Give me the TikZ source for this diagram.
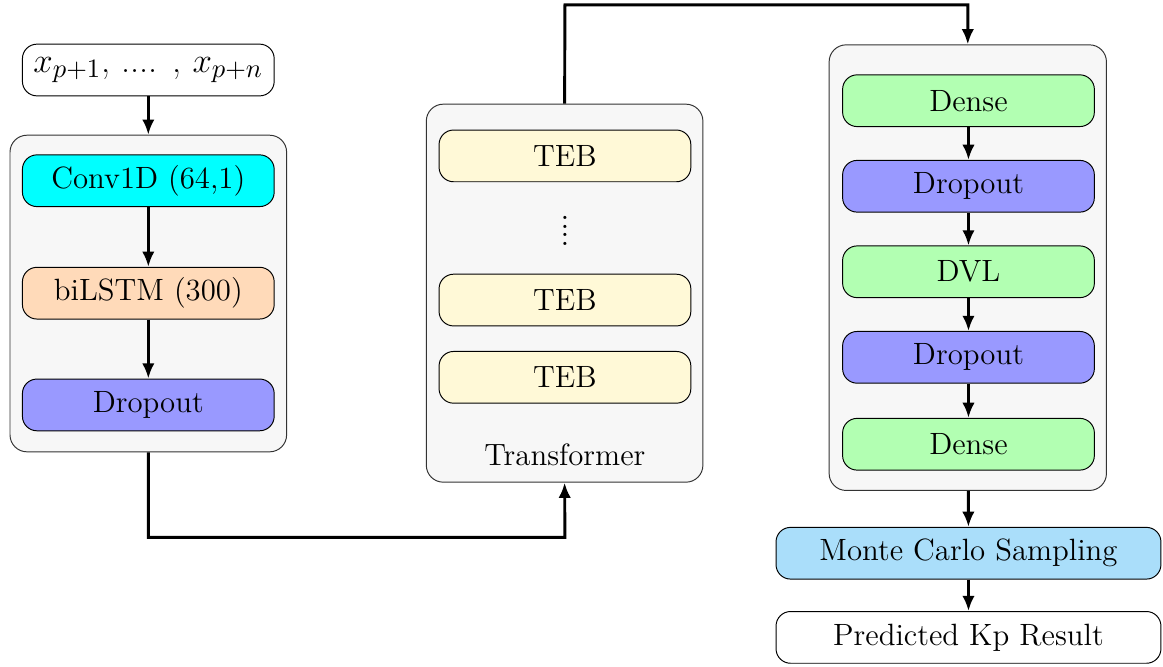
\documentclass[tikz,border=0pt]{standalone}
\usepackage{tikz}
\usetikzlibrary{positioning}
\usetikzlibrary{arrows.meta}
\usepackage{xcolor}

\definecolor{convcyan}{RGB}{0,255,255}
\definecolor{peach}{RGB}{255,218,185}
\definecolor{tebyellow}{RGB}{255,249,215}
\definecolor{mcblue}{RGB}{170,222,250}
\definecolor{grpgray}{RGB}{247,247,247}

\tikzset{
  layer/.style={draw, rounded corners=6pt, minimum width=3.65cm, minimum height=0.75cm, font=\fontsize{12.7}{15}\selectfont, inner sep=0pt},
  grp/.style={draw=black!80, fill=grpgray, rounded corners=7pt, inner sep=0pt},
  arr/.style={-{Latex[length=2.2mm,width=1.8mm]}, line width=1.2pt}
}

\begin{document}
\begin{tikzpicture}

\useasboundingbox (0,0) rectangle (16.86,9.66);

% input and encoder
\node[layer, fill=white, font=\fontsize{15}{18}\selectfont] (inp) at (2.15,8.645) {$x_{p+1}$, .... , $x_{p+n}$};

\node[grp, minimum width=4.01cm, minimum height=4.59cm] (enc) at (2.15,5.405) {};
\node[layer, fill=convcyan] (conv) at (2.15,7.04) {Conv1D (64,1)};
\node[layer, fill=peach] (lstm) at (2.15,5.41) {biLSTM (300)};
\node[layer, fill=blue!40] (dropa) at (2.15,3.79) {Dropout};

% transformer
\node[grp, minimum width=4.01cm, minimum height=5.48cm] (trans) at (8.185,5.41) {};
\node[layer, fill=tebyellow] (teba) at (8.19,7.40) {TEB};
\node[inner sep=0pt, font=\fontsize{16}{16}\selectfont] (vdots) at (8.19,6.31) {\vbox{\baselineskip=3.5pt\lineskiplimit=-10pt\hbox{.}\hbox{.}\hbox{.}\hbox{.}}};
\node[layer, fill=tebyellow] (tebb) at (8.19,5.31) {TEB};
\node[layer, fill=tebyellow] (tebc) at (8.19,4.19) {TEB};
\node[font=\fontsize{12.7}{15}\selectfont] (translabel) at (8.19,3.06) {Transformer};

% decoder
\node[grp, minimum width=4.02cm, minimum height=6.46cm] (dec) at (14.03,5.78) {};
\node[layer, fill=green!30] (densea) at (14.04,8.20) {Dense};
\node[layer, fill=blue!40] (dropb) at (14.04,6.96) {Dropout};
\node[layer, fill=green!30] (dvl) at (14.04,5.72) {DVL};
\node[layer, fill=blue!40] (dropc) at (14.04,4.48) {Dropout};
\node[layer, fill=green!30] (denseb) at (14.04,3.22) {Dense};

% output
\node[layer, fill=mcblue, minimum width=5.58cm] (mc) at (14.04,1.64) {Monte Carlo Sampling};
\node[layer, fill=white, minimum width=5.58cm] (pred) at (14.04,0.42) {Predicted Kp Result};

\coordinate (low) at (8.19,1.87);
\coordinate (high) at (8.19,9.59);

% connectors
\draw[arr] (inp) -- (enc);
\draw[arr] (conv) -- (lstm);
\draw[arr] (lstm) -- (dropa);
\draw[arr] (enc.south) |- (low) -- (trans.south);
\draw[arr] (trans.north) -- (high) -| (dec.north);
\draw[arr] (densea) -- (dropb);
\draw[arr] (dropb) -- (dvl);
\draw[arr] (dvl) -- (dropc);
\draw[arr] (dropc) -- (denseb);
\draw[arr] (dec) -- (mc);
\draw[arr] (mc) -- (pred);

\end{tikzpicture}
\end{document}
